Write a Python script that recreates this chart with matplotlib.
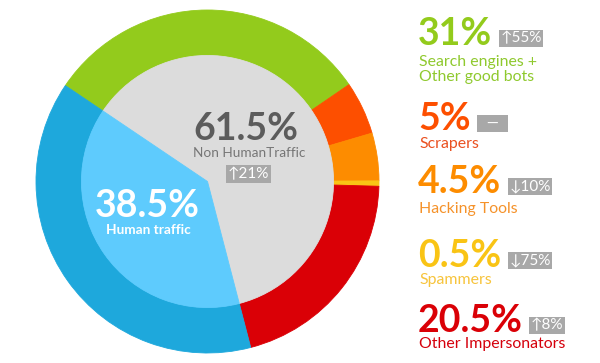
import matplotlib.pyplot as plt

# traffic shares (outer ring, clockwise from upper left)
segment_names = ['Search engines +\nOther good bots', 'Scrapers', 'Hacking Tools',
                 'Spammers', 'Other Impersonators', 'Human traffic']
segment_shares = [31, 5, 4.5, 0.5, 20.5, 38.5]
segment_changes = ['↑55%', '  —  ', '↓10%', '↓75%', '↑8%']

# inner pie: bots vs humans
group_names = ['Non HumanTraffic', 'Human traffic']
group_shares = [61.5, 38.5]
group_change = '↑21%'

ring_colors = ['#93cb1c', '#fd4f00', '#fd8c00', '#f9c415', '#da0006', '#1ea8dc']
label_colors = ['#8fc92e', '#ea5020', '#f5922a', '#f7c43c', '#d5000c']
inner_colors = ['#dcdcdc', '#5ecbfd']
badge_color = '#a8a8a8'

W, H = 600, 363
fig = plt.figure(figsize=(W / 100, H / 100), dpi=100)
fig.patch.set_facecolor('white')


def fx(x):
    return x / W


def fy(y):
    return 1 - y / H


# pie axes: center (207.5, 181.5) px, radius 171.5 px
ax = fig.add_axes([fx(36), fy(353), 343 / W, 343 / H])
ax.set_aspect('equal')
ax.axis('off')

outer, _ = ax.pie(segment_shares, colors=ring_colors, radius=1, startangle=146,
                  counterclock=False, wedgeprops=dict(width=0.265))
inner, _ = ax.pie(group_shares, colors=inner_colors, radius=0.735, startangle=146,
                  counterclock=False)
for w in outer + inner:
    w.set_edgecolor(w.get_facecolor())
    w.set_linewidth(0.6)
ax.set_xlim(-1, 1)
ax.set_ylim(-1, 1)

fam = ['Lato', 'DejaVu Sans']
big = 27
badge = dict(boxstyle='square,pad=0.1', fc=badge_color, ec='none')

# center labels
fig.text(fx(246), fy(140), f'{group_shares[0]:g}%', fontsize=big, fontweight='bold',
         color='#5c5c5c', ha='center', va='baseline', family=fam)
fig.text(fx(249), fy(157), group_names[0], fontsize=9.8, color='#767676',
         ha='center', va='baseline', family=fam)
fig.text(fx(248.5), fy(174), group_change, fontsize=11, color='white',
         ha='center', va='center', family=fam, bbox=badge)

fig.text(fx(147), fy(217), f'{group_shares[1]:g}%', fontsize=big, fontweight='bold',
         color='white', ha='center', va='baseline', family=fam)
fig.text(fx(148), fy(234), group_names[1], fontsize=9.8, fontweight='bold',
         color='white', ha='center', va='baseline', family=fam)

# right hand legend (baseline of the last label line)
num_baselines = [45, 130, 193, 267, 332]
label_baselines = [81, 148, 213, 284, 348]
x0 = 418
nums = []
for i in range(5):
    t = fig.text(fx(x0), fy(num_baselines[i]), f'{segment_shares[i]:g}%', fontsize=big,
                 fontweight='bold', color=ring_colors[i], ha='left', va='baseline',
                 family=fam)
    nums.append(t)
    fig.text(fx(x0 + 1), fy(label_baselines[i]), segment_names[i], fontsize=11.4,
             color=label_colors[i], ha='left', va='baseline', family=fam,
             linespacing=1.05)

fig.canvas.draw()
r = fig.canvas.get_renderer()
for i, t in enumerate(nums):
    ext = t.get_window_extent(r)
    fig.text((ext.x1 + 8) / W, fy(num_baselines[i] - 6.5), segment_changes[i],
             fontsize=11, color='white', ha='left', va='center', family=fam,
             bbox=badge)

fig.savefig('out.png', dpi=100, facecolor='white')
